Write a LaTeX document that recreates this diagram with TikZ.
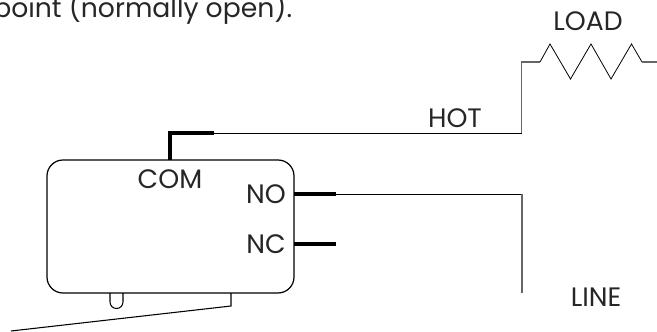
\documentclass[tikz,border=0pt]{standalone}
\usepackage{fontspec}
\setmainfont{Poppins}
\usetikzlibrary{positioning}
\tikzset{
lbl/.style={inner sep=0pt,text=black!85,font=\fontsize{20}{22}\selectfont},
contact/.style={line width=3pt},
wire/.style={line width=0.8pt},
}
\begin{document}
\begin{tikzpicture}[x=0.75pt,y=-0.75pt,line join=miter]
\useasboundingbox (0,0) rectangle (657,332);
\path
(170,160) coordinate (A)
(170,133) coordinate (B)
(214,133) coordinate (C)
(521.5,133) coordinate (D)
(521.5,62) coordinate (E)
(540,62) coordinate (F)
(657,62) coordinate (G)
(294,194) coordinate (H)
(336,194) coordinate (I)
(522,194) coordinate (J)
(522,293) coordinate (K)
(294,244) coordinate (L)
(336,244) coordinate (M)
(231,293) coordinate (P)
(231,306) coordinate (Q)
(11,331) coordinate (R);
\node[draw,line width=0.9pt,rounded corners=12,minimum width=185.25pt,minimum height=99.75pt,inner sep=0pt] (sw) at (170.5,226.5) {};
\draw[contact] (A)--(B)--(C);
\draw[wire,line width=0.7pt] (C)--(D);
\draw[wire,black!60] (D)--(E)--(F);
\draw[wire,line width=0.6pt] (F)--(550,44)--(570.5,79)--(591,44)--(611,79)--(631.5,44)--(642,62);
\draw[wire,black!60] (642,62)--(G);
\draw[contact] (H)--(I);
\draw[wire,line width=0.6pt] (I)--(J);
\draw[wire,black!60] (J)--(K);
\draw[contact] (L)--(M);
\draw[wire] (P)--(Q)--(R);
\draw[wire] (110,293)--(110,302) arc[start angle=180,end angle=0,radius=6.5] --(123,293);
\node[lbl,anchor=base west] (note) at (-7,17) {point (normally open).};
\node[lbl,anchor=base] (load) at (588,31) {LOAD};
\node[lbl,anchor=base] (hot) at (455,127) {HOT};
\node[lbl,anchor=base] (com) at (170,188) {COM};
\node[lbl,anchor=base east] (no) at (286,203) {NO};
\node[lbl,anchor=base east] (nc) at (286,253) {NC};
\node[lbl,anchor=base] (line) at (596,306) {LINE};
\end{tikzpicture}
\end{document}
